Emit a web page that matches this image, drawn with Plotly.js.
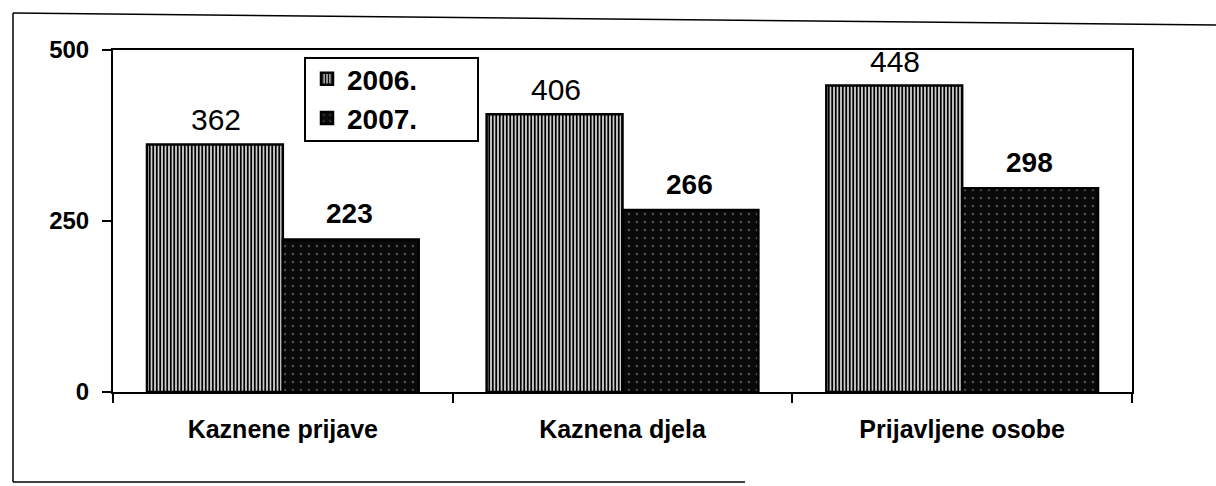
<!DOCTYPE html>
<html>
<head>
<meta charset="utf-8">
<script src="https://cdn.plot.ly/plotly-3.0.1.min.js"></script>
<style>
html,body{margin:0;padding:0;background:#fff;}
#chart{width:1216px;height:486px;}
</style>
</head>
<body>
<div id="chart"></div>
<script>
const categories = ["Kaznene prijave", "Kaznena djela", "Prijavljene osobe"];
const values2006 = [362, 406, 448];
const values2007 = [223, 266, 298];
const seriesNames = ["2006.", "2007."];
const yTickVals = [0, 250, 500];

const FONT = "Liberation Sans, Arial, sans-serif";

const trace2006 = {
  type: "bar",
  name: seriesNames[0],
  x: categories,
  y: values2006,
  marker: {
    color: "#ffffff",
    line: {color: "#000", width: 2.5},
    pattern: {shape: "|", fgcolor: "#000", bgcolor: "#fff", size: 3.5, solidity: 0.6}
  },
  hoverinfo: "none"
};
const trace2007 = {
  type: "bar",
  name: seriesNames[1],
  x: categories,
  y: values2007,
  marker: {
    color: "#0a0a0a",
    line: {color: "#000", width: 2.5},
    pattern: {shape: ".", fgcolor: "#505050", bgcolor: "#0a0a0a", size: 8, solidity: 0.08}
  },
  hoverinfo: "none"
};

const annotations = [];
categories.forEach((c, i) => {
  annotations.push({
    x: c, y: values2006[i], xref: "x", yref: "y",
    text: String(values2006[i]), showarrow: false,
    xshift: -67, yshift: 6, yanchor: "bottom",
    font: {family: FONT, size: 30, color: "#000", weight: "normal"}
  });
  annotations.push({
    x: c, y: values2007[i], xref: "x", yref: "y",
    text: String(values2007[i]), showarrow: false,
    xshift: 67, yshift: 8, yanchor: "bottom",
    font: {family: FONT, size: 28, color: "#000", weight: "bold"}
  });
});

const L = 113, T = 50, W = 1019, H = 342;
const px = x => (x - L) / W;
const py = y => (T + H - y) / H;

const shapes = [
  // legend box
  {type: "rect", xref: "paper", yref: "paper", x0: px(305), x1: px(478), y0: py(141), y1: py(58),
   line: {color: "#000", width: 2}, fillcolor: "rgba(0,0,0,0)"},
  // outer border (scanned frame)
  {type: "line", xref: "paper", yref: "paper", x0: px(13), y0: py(13), x1: px(1216), y1: py(25), line: {color: "#000", width: 1.5}},
  {type: "line", xref: "paper", yref: "paper", x0: px(13), y0: py(13), x1: px(13), y1: py(482), line: {color: "#000", width: 1.5}},
  {type: "line", xref: "paper", yref: "paper", x0: px(13), y0: py(482), x1: px(745), y1: py(482), line: {color: "#000", width: 1.5}}
];

const layout = {
  width: 1216, height: 486,
  margin: {l: L, r: 1216 - L - W, t: T, b: 486 - T - H},
  paper_bgcolor: "#fff", plot_bgcolor: "#fff",
  barmode: "group", bargap: 0.2, bargroupgap: 0,
  showlegend: true,
  legend: {
    x: px(307), y: py(54), xanchor: "left", yanchor: "top",
    bgcolor: "rgba(0,0,0,0)", borderwidth: 0,
    font: {family: FONT, size: 28, color: "#000", weight: "bold"},
    itemwidth: 30, tracegroupgap: 0
  },
  xaxis: {
    type: "category",
    showline: true, linecolor: "#000", linewidth: 2, mirror: true,
    ticks: "outside", tickson: "boundaries", ticklen: 9, tickwidth: 2, tickcolor: "#000",
    showgrid: false, zeroline: false,
    tickfont: {family: FONT, size: 25, color: "#000", weight: "bold"},
    ticklabelstandoff: 14,
    fixedrange: true
  },
  yaxis: {
    range: [0, 500],
    tickvals: yTickVals, ticktext: yTickVals.map(String),
    showline: true, linecolor: "#000", linewidth: 2, mirror: true,
    ticks: "outside", ticklen: 9, tickwidth: 2, tickcolor: "#000",
    showgrid: false, zeroline: false,
    tickfont: {family: FONT, size: 24, color: "#000", weight: "bold"},
    ticklabelstandoff: 8,
    fixedrange: true
  },
  annotations: annotations,
  shapes: shapes
};

Plotly.newPlot("chart", [trace2006, trace2007], layout, {displayModeBar: false, staticPlot: true});
</script>
</body>
</html>
